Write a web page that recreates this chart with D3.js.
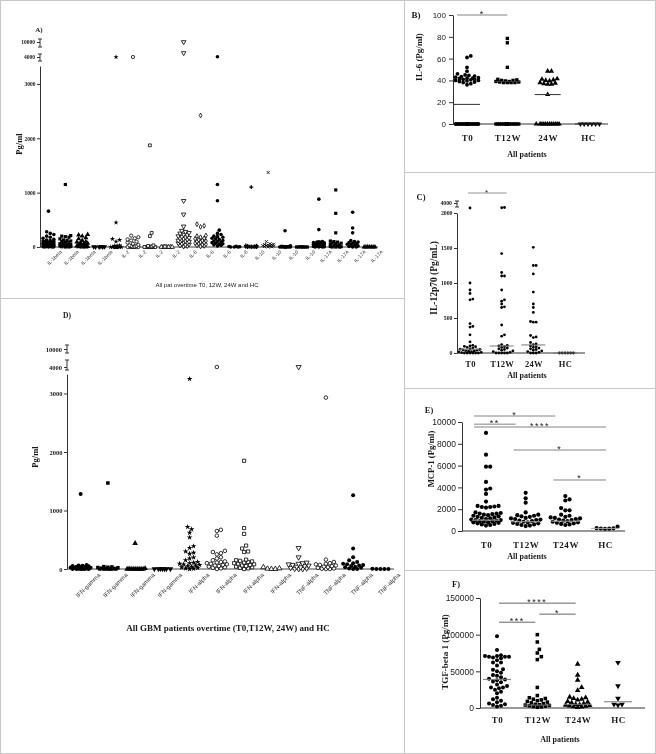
<!DOCTYPE html>
<html><head><meta charset="utf-8">
<script src="https://cdn.jsdelivr.net/npm/d3@7"></script>
<style>body{margin:0;background:#fff}svg{display:block;filter:grayscale(1)}</style>
</head><body><svg id="c" width="656" height="754"></svg>
<script>
// ================= DATA =================
// Panel A
const aCategories = ["IL-1beta","IL-1beta","IL-1beta","IL-1beta","IL-2","IL-2","IL-2","IL-2","IL-8","IL-8","IL-8","IL-8","IL-10","IL-10","IL-10","IL-10","IL-17A","IL-17A","IL-17A","IL-17A"];
const aTicksLow = [0,1000,2000,3000];
const aTicksHigh = [4000,10000];
const aValues = [
 [660,280,250,230,200,180,160,140,130,120,110,100,95,90,85,80,75,70,65,60,55,50,45,40,35,30,25,20,15,10,8,5,3,0,0,0],
 [1150,210,200,190,180,150,130,120,110,100,90,80,70,60,50,45,40,35,30,25,20,15,10,5,0,0],
 [230,220,200,170,150,120,100,90,80,70,60,50,40,30,25,20,15,10,5,0,0],
 [10,5,5,0,0,0],
 [4000,450,150,130,100,30,20,10,5,0,0,0,0,0,0,0,0,0,0,0],
 [4000,210,180,160,140,120,100,80,60,40,30,20,15,10,5,0,0,0,0,0,0,0,0],
 [1870,260,200,30,20,10,5,0,0,0,0,0,0,0,0,0,0,0],
 [5,0,0,0,0,0,0],
 [10000,5600,850,600,380,300,280,260,250,230,220,200,190,180,170,160,150,140,130,120,110,100,100,90,80,70,60,50,40,30,20,10],
 [2420,420,390,370,210,200,180,160,150,130,120,110,100,90,80,70,60,50,40,30,20,10],
 [4100,1150,850,310,250,230,200,190,180,160,150,140,120,110,100,90,80,70,60,50,40,30,20],
 [15,10,5,0,0,0],
 [1100,30,25,20,15,10,8,5,3,0,0,0,0],
 [1370,100,60,50,45,40,35,30,25,20,15,10,5,0],
 [300,20,15,10,8,5,3,0,0,0,0,0,0,0,0],
 [5,3,0,0,0,0,0,0],
 [880,320,100,95,90,85,80,75,70,65,60,55,50,45,40,35,30,25,20,15,10,5,0,0,0],
 [1050,620,260,110,100,90,80,70,60,50,40,30,20,10,5,0,0,0],
 [640,350,260,120,100,90,80,70,60,50,40,30,20,10,0,0],
 [5,3,0,0,0,0,0]
];
// Panel D
const dCategories = ["IFN-gamma","IFN-gamma","IFN-gamma","IFN-gamma","IFN-alpha","IFN-alpha","IFN-alpha","IFN-alpha","TNF-alpha","TNF-alpha","TNF-alpha","TNF-alpha"];
const dTicksLow = [0,1000,2000,3000];
const dTicksHigh = [4000,10000];
const dValues = [
 [1280,70,60,55,50,45,40,35,30,25,20,15,10,5,0,0,0,0,0,0],
 [1470,40,35,30,25,20,15,10,5,0,0,0,0,0,0],
 [440,10,5,0,0,0,0,0,0,0,0],
 [3,0,0,0,0,0,0],
 [3250,720,680,620,540,390,360,300,280,260,200,180,150,120,110,100,90,80,70,60,50,40,30,20,10,5,0],
 [4000,670,650,570,310,290,270,250,200,180,150,130,120,110,100,90,80,70,60,50,40,30,20,10,0],
 [1850,700,600,400,350,300,290,160,150,140,130,120,110,100,90,80,70,60,50,40,30,20,10,0],
 [30,10,5,0,0],
 [4000,360,200,110,100,90,80,70,60,50,40,30,20,10,5,0,0],
 [2930,160,120,100,90,80,70,60,50,40,30,20,10,5,0,0],
 [1260,350,200,150,120,100,90,80,70,60,50,40,30,20,10,0,0],
 [3,0,0,0,0]
];
// Panel B (IL-6)
const bGroups = ["T0","T12W","24W","HC"];
const bTicks = [0,20,40,60,80,100];
const bValues = [
 [62.5,61,52,48.5,46,45,44.5,44,43.5,43,42.5,42,42,41.5,41,41,40.5,40,40,39.5,39,38.5,38,37,36, 0,0,0,0,0,0,0,0,0,0,0,0,0,0,0,0,0,0,0,0,0,0,0,0,0],
 [78.5,74.5,52,41,40.5,40,40,39.5,39,39,38.5,38.5,38,38,38,38, 0,0,0,0,0,0,0,0,0,0,0,0,0,0,0,0,0,0,0,0],
 [48.5,48.5,41.5,41,40.5,40,39.5,38,37.5,37,36.5,36.5,27, 0,0,0,0,0,0,0,0,0,0,0,0],
 [0,0,0,0,0,0]
];
const bMedians = [18,39,27,0];
const bSig = [["T0","T12W",100,"*"]];
// Panel C (IL-12p70)
const cGroups = ["T0","T12W","24W","HC"];
const cTicksLow = [0,500,1000,1500,2000];
const cTicksHigh = [4000];
const cValues = [
 [3000,1000,900,850,770,760,420,380,370,260,160,110,100,95,90,80,70,60,55,50,45,40,35,30,25,20,15,10,5,0,0,0,0,0,0],
 [3100,3050,1420,1150,1100,1100,900,760,740,700,660,650,400,260,240,120,110,100,90,80,70,60,50,40,30,20,10,0,0,0,0,0],
 [1510,1250,1250,1130,870,700,650,580,450,440,440,250,230,220,150,130,120,100,90,80,70,60,50,40,30,20,10,0,0,0],
 [0,0,0,0,0,0]
];
const cMedians = [55,100,115,0];
const cSig = [["T0","T12W",6000,"*"]];
// Panel E (MCP-1)
const eGroups = ["T0","T12W","T24W","HC"];
const eTicks = [0,2000,4000,6000,8000,10000];
const eValues = [
 [9000,7000,5900,5900,4500,3900,3800,3400,2700,2300,2300,2250,2200,2200,2150,1700,1650,1600,1600,1550,1500,1450,1400,1350,1300,1250,1200,1150,1100,1050,1000,1000,950,900,900,850,800,800,750,700,650,600,550,500],
 [3500,3000,2600,1700,1500,1450,1400,1350,1300,1200,1150,1100,1050,1000,950,900,850,800,750,700,650,600,550,500,450],
 [3200,2900,2800,2100,1900,1900,1500,1400,1300,1250,1200,1150,1100,1050,1000,950,900,850,800,750,700,650,600,550],
 [250,230,200,210,260,400]
];
const eMedians = [1000,850,900,240];
const eSig = [["T0","T24W",10550,"*"],["T0","T12W",9800,"**"],["T0","HC",9540,"****"],["T12W","HC",7430,"*"],["T24W","HC",4680,"*"]];
// Panel F (TGF-beta 1)
const fGroups = ["T0","T12W","T24W","HC"];
const fTicks = [0,50000,100000,150000];
const fValues = [
 [98000,79000,72000,71000,71000,70000,70000,70000,69000,68000,65000,62000,62000,58000,53000,52000,50000,48000,45000,44000,42000,40000,39000,38000,36000,35000,32000,30000,28000,28000,27000,25000,22000,20000,14000,12000,10000,8000,6000,5000,4000,3000,2000],
 [100000,90000,80000,75000,70000,66000,28000,17000,14000,13000,12000,11000,10000,9000,8000,7000,6000,5000,4500,4000,3500,3000,2500,2000,1500,1000],
 [60000,45000,38000,28000,24000,15000,14000,13000,12000,11000,9000,8000,7000,6000,5000,4500,4000,3500,3000,2500,2000,1500,1000],
 [62000,30000,13000,5000,5000,4000]
];
const fMedians = [39000,4000,5000,8500];
const fSig = [["T0","T24W",143000,"****"],["T12W","T24W",128000,"*"],["T0","T12W",117000,"***"]];

// ================= STYLE CONFIG =================
const aStyles = ["circle","square","triangle","triangleDown","star","circle-o","square-o","triangle-o","triangleDown-o","diamond-o","circle","circle","cross","times","circle","square","circle","square","circle","triangle"];
const dStyles = ["circle","square","triangle","triangleDown","star","circle-o","square-o","triangle-o","triangleDown-o","circle-o","circle","circle"];
const SERIF = "'Liberation Serif','Times New Roman',serif";
const SANS = "'Liberation Sans',Arial,sans-serif";
const INK = "#1a1a1a";

const svg = d3.select("#c");
svg.append("rect").attr("width",656).attr("height",754).attr("fill","#fff");

// frames
const frame = svg.append("g").attr("stroke","#c8c8c8").attr("stroke-width",1).attr("fill","none");
frame.append("rect").attr("x",0.5).attr("y",0.5).attr("width",655).attr("height",753);
frame.append("line").attr("x1",404.5).attr("x2",404.5).attr("y1",0).attr("y2",754);
frame.append("line").attr("x1",0).attr("x2",404.5).attr("y1",298.5).attr("y2",298.5);
[172.5,388.5,570.5].forEach(yy=>frame.append("line").attr("x1",404.5).attr("x2",656).attr("y1",yy).attr("y2",yy));

// ================= HELPERS =================
function swarm(vals, cx, yf, r, maxHalf){
  const pts = vals.map(v=>({v, y:yf(v)})).sort((a,b)=>b.y-a.y);
  const placed=[]; const step=r;
  for(const p of pts){
    let best=0, bestD=-1, found=false;
    for(let k=0;k*step<=maxHalf && !found;k++){
      for(const s of (k===0?[0]:[1,-1])){
        const dx=s*k*step; let md=Infinity;
        for(const q of placed){const d=Math.hypot(q.dx-dx,q.y-p.y); if(d<md) md=d;}
        if(md>=2*r*0.95){best=dx;found=true;break;}
        if(md>bestD){bestD=md;best=dx;}
      }
    }
    p.dx=best; placed.push(p);
  }
  return pts.map(p=>({x:cx+p.dx,y:p.y,v:p.v}));
}
function marks(g, pts, style, r){
  const open=style.endsWith("-o");
  const base=style.replace("-o","");
  const types={circle:d3.symbolCircle,square:d3.symbolSquare,triangle:d3.symbolTriangle,triangleDown:d3.symbolTriangle,diamond:d3.symbolDiamond,star:d3.symbolStar,cross:d3.symbolCross,times:(d3.symbolTimes||d3.symbolX||d3.symbolCross)};
  const k={circle:1,square:1.0,triangle:1.1,triangleDown:1.1,diamond:0.8,star:0.8,cross:0.8,times:0.7}[base];
  const area = Math.PI*r*r*k;
  const sz = open ? area*0.8 : area;
  const stroked = open || base==="times";
  g.append("g").selectAll("path").data(pts).join("path")
    .attr("transform",d=>`translate(${d.x},${d.y})${base==="triangleDown"?" rotate(180)":""}`)
    .attr("d",d3.symbol(types[base],sz))
    .attr("fill", base==="times" ? "none" : (open?"#fff":"#000"))
    .attr("stroke", stroked?"#000":"none").attr("stroke-width",0.8);
}
function label(g,x,y,str,o={}){
  const t=g.append("text").attr("x",x).attr("y",y).text(str)
    .attr("font-family",o.family||SERIF).attr("font-size",o.size||8)
    .attr("font-weight",o.weight||"bold").attr("fill",o.fill||INK)
    .attr("text-anchor",o.anchor||"middle");
  if(o.rotate) t.attr("transform",`rotate(${o.rotate},${x},${y})`);
  if(o.ls) t.attr("letter-spacing",o.ls);
  return t;
}
function styleAxis(ax,family,size,weight,color){
  ax.attr("font-family",family).attr("font-size",size).attr("font-weight",weight);
  ax.selectAll("path,line").attr("stroke",color||"#333");
  ax.selectAll("text").attr("fill",INK);
}
function yAxis(g,scale,x,ticks,family,size,weight,tl,pad){
  const ax=g.append("g").attr("transform",`translate(${x},0)`)
    .call(d3.axisLeft(scale).tickValues(ticks).tickFormat(d3.format("d")).tickSize(tl).tickSizeOuter(0).tickPadding(pad));
  styleAxis(ax,family,size,weight);
  return ax;
}
function highTicks(g,scale,x,ticks,family,size,caps){
  const ax=g.append("g").attr("transform",`translate(${x},0)`)
    .call(d3.axisLeft(scale).tickValues(ticks).tickFormat(d3.format("d")).tickSize(3).tickSizeOuter(0).tickPadding(2));
  styleAxis(ax,family,size,"bold");
  ax.select(".domain").remove();
  caps.forEach(([a,b])=>{
    ax.append("line").attr("x1",0).attr("x2",0).attr("y1",a).attr("y2",b).attr("stroke","#333");
    ax.append("line").attr("x1",-2).attr("x2",2).attr("y1",a).attr("y2",a).attr("stroke","#333");
    ax.append("line").attr("x1",-2).attr("x2",2).attr("y1",b).attr("y2",b).attr("stroke","#333");
  });
}
function xAxisCats(g,scale,y,x0,x1,fmt,family,size,off,ls){
  const ax=g.append("g").attr("transform",`translate(0,${y})`)
    .call(d3.axisBottom(scale).tickSize(0).tickSizeOuter(0).tickFormat(fmt));
  ax.select(".domain").attr("d",`M${x0},0H${x1}`);
  styleAxis(ax,family,size,"bold");
  ax.selectAll("text").attr("y",off).attr("dy",null);
  if(ls) ax.selectAll("text").attr("letter-spacing",ls);
  return ax;
}
function xAxisRot(g,scale,y,x0,x1,fmt,size,dx,dy){
  const ax=g.append("g").attr("transform",`translate(0,${y})`)
    .call(d3.axisBottom(scale).tickSize(0).tickSizeOuter(0).tickFormat(fmt));
  ax.select(".domain").attr("d",`M${x0},0H${x1}`);
  styleAxis(ax,SANS,size,"normal","#444");
  ax.selectAll(".tick text").attr("y",0).attr("dy","0.35em").attr("text-anchor","end")
    .attr("transform",`translate(${dx},${dy}) rotate(-45)`).attr("fill","#333");
  return ax;
}
function sig(g,x,y,list,d0,d1,color,size){
  list.forEach(([a,b,v,lab])=>{
    const x0=x(a)+d0(a), x1=x(b)+d1(b), yy=y(v);
    g.append("line").attr("x1",x0).attr("x2",x1).attr("y1",yy).attr("y2",yy).attr("stroke",color).attr("stroke-width",0.9);
    label(g,(x0+x1)/2,yy+1.5,lab,{family:SANS,size:size,weight:"normal",ls:1.5,fill:"#222"});
  });
}
function medians(g,x,y,groups,meds,half,color,w){
  groups.forEach((k,i)=>g.append("line").attr("x1",x(k)-half).attr("x2",x(k)+half)
    .attr("y1",y(meds[i])).attr("y2",y(meds[i])).attr("stroke",color).attr("stroke-width",w||1));
}

// ================= PANEL A =================
{
  const g=svg.append("g");
  const x=d3.scaleBand().domain(d3.range(aValues.length)).range([40,378]);
  const yLow=d3.scaleLinear().domain([0,3330]).range([247,66]);
  const yHigh=d3.scaleLinear().domain([4000,10000]).range([57,42]);
  const y=v=>v>3330?yHigh(Math.max(v,4000)):yLow(v);
  yAxis(g,yLow,40,aTicksLow,SERIF,5.5,"bold",3,1.5);
  highTicks(g,yHigh,40,aTicksHigh,SERIF,5.5,[[yHigh(4000)-3,yHigh(4000)+4],[yHigh(10000)-3,yHigh(10000)+5]]);
  xAxisRot(g,x,247,40,378,i=>aCategories[i],5,x.bandwidth()/2+4,4);
  aValues.forEach((vals,i)=>marks(g,swarm(vals,x(i)+x.bandwidth()/2,y,1.8,7),aStyles[i],1.8));
  label(g,39,32,"A)",{size:7});
  label(g,22,144,"Pg/ml",{size:8.5,rotate:-90});
  label(g,207,287,"All pat overtime T0, 12W, 24W and HC",{family:SANS,size:6,weight:"normal"});
}
// ================= PANEL D =================
{
  const g=svg.append("g");
  const x=d3.scaleBand().domain(d3.range(dValues.length)).range([67,394]);
  const yLow=d3.scaleLinear().domain([0,3330]).range([569,374.2]);
  const yHigh=d3.scaleLinear().domain([4000,10000]).range([367,349]);
  const y=v=>v>3330?yHigh(Math.max(v,4000)):yLow(v);
  yAxis(g,yLow,67,dTicksLow,SERIF,6.5,"bold",3,1.5);
  highTicks(g,yHigh,67,dTicksHigh,SERIF,6.5,[[yHigh(4000)-7,yHigh(4000)+3],[yHigh(10000)-4,yHigh(10000)+4]]);
  xAxisRot(g,x,569,67,394,i=>dCategories[i],6,x.bandwidth()/2+5,5);
  dValues.forEach((vals,i)=>marks(g,swarm(vals,x(i)+x.bandwidth()/2,y,2,11),dStyles[i],2));
  label(g,67,318,"D)",{size:7.5});
  label(g,38,457,"Pg/ml",{size:8.5,rotate:-90});
  label(g,228,631,"All GBM patients overtime (T0,T12W, 24W) and HC",{size:9});
}
// ================= PANEL B =================
{
  const g=svg.append("g");
  const x=d3.scalePoint().domain(bGroups).range([467,588]);
  const y=d3.scaleLinear().domain([0,100]).range([124,15]);
  yAxis(g,y,453,bTicks,SANS,8,"normal",4,3);
  xAxisCats(g,x,124,453,608,d=>d,SERIF,9,17,0.6);
  const st=["circle","square","triangle","triangleDown"];
  bValues.forEach((vals,i)=>marks(g,swarm(vals,x(bGroups[i]),y,1.9,13),st[i],1.9));
  medians(g,x,y,bGroups,bMedians,13,"#333",1);
  sig(g,x,y,bSig,()=>-10,()=>0,"#777",9);
  label(g,416,18,"B)",{size:9});
  label(g,422,57,"IL-6 (Pg/ml)",{size:9,rotate:-90});
  label(g,527,157,"All patients",{size:8});
}
// ================= PANEL C =================
{
  const g=svg.append("g");
  const x=d3.scalePoint().domain(cGroups).range([470,565]);
  const yLow=d3.scaleLinear().domain([0,2000]).range([353,213]);
  const yHigh=d3.scaleLinear().domain([2000,4000]).range([213,203]);
  const y=v=>v>2000?yHigh(v):yLow(v);
  yAxis(g,yLow,457,cTicksLow,SERIF,5.8,"bold",3,1.5);
  highTicks(g,yHigh,457,cTicksHigh,SERIF,5.8,[[201,207]]);
  xAxisCats(g,x,353,457,585,d=>d,SERIF,8.5,14,0.3);
  cValues.forEach((vals,i)=>marks(g,swarm(vals,x(cGroups[i]),y,1.4,13),"circle",1.4));
  medians(g,x,y,cGroups,cMedians,12,"#777",1);
  sig(g,x,yHigh,cSig,()=>-2,()=>5,"#888",8);
  label(g,421,200,"C)",{size:8.5});
  label(g,437,278,"IL-12p70 (Pg/mL)",{size:9.5,rotate:-90});
  label(g,527,378,"All patients",{size:8});
}
// ================= PANEL E =================
{
  const g=svg.append("g");
  const x=d3.scalePoint().domain(eGroups).range([486,605]);
  const y=d3.scaleLinear().domain([0,10000]).range([531,422]);
  yAxis(g,y,462,eTicks,SANS,8.5,"normal",4,2);
  xAxisCats(g,x,531,462,625,d=>d,SERIF,9,17,0.6);
  eValues.forEach((vals,i)=>marks(g,swarm(vals,x(eGroups[i]),y,2.1,16),"circle",2.1));
  medians(g,x,y,eGroups,eMedians,14,"#aaa",1);
  sig(g,x,y,eSig,()=>-12,(b)=>b==="HC"?1:-10,"#777",9);
  label(g,429,413,"E)",{size:8.5});
  label(g,434,459,"MCP-1 (Pg/ml)",{size:8.7,rotate:-90});
  label(g,527,559,"All patients",{size:8});
}
// ================= PANEL F =================
{
  const g=svg.append("g");
  const x=d3.scalePoint().domain(fGroups).range([497,618]);
  const y=d3.scaleLinear().domain([0,150000]).range([708,598]);
  yAxis(g,y,480,fTicks,SANS,8.5,"normal",4,2);
  xAxisCats(g,x,708,480,645,d=>d,SERIF,9,15,0.6);
  const st=["circle","square","triangle","triangleDown"];
  fValues.forEach((vals,i)=>marks(g,swarm(vals,x(fGroups[i]),y,2,15),st[i],2));
  medians(g,x,y,fGroups,fMedians,14,"#777",1);
  sig(g,x,y,fSig,()=>2,()=>-2,"#555",9);
  label(g,456,587,"F)",{size:8.5});
  label(g,448,652,"TGF-beta 1 (Pg/ml)",{size:9,rotate:-90});
  label(g,560,742,"All patients",{size:8});
}
</script></body></html>
